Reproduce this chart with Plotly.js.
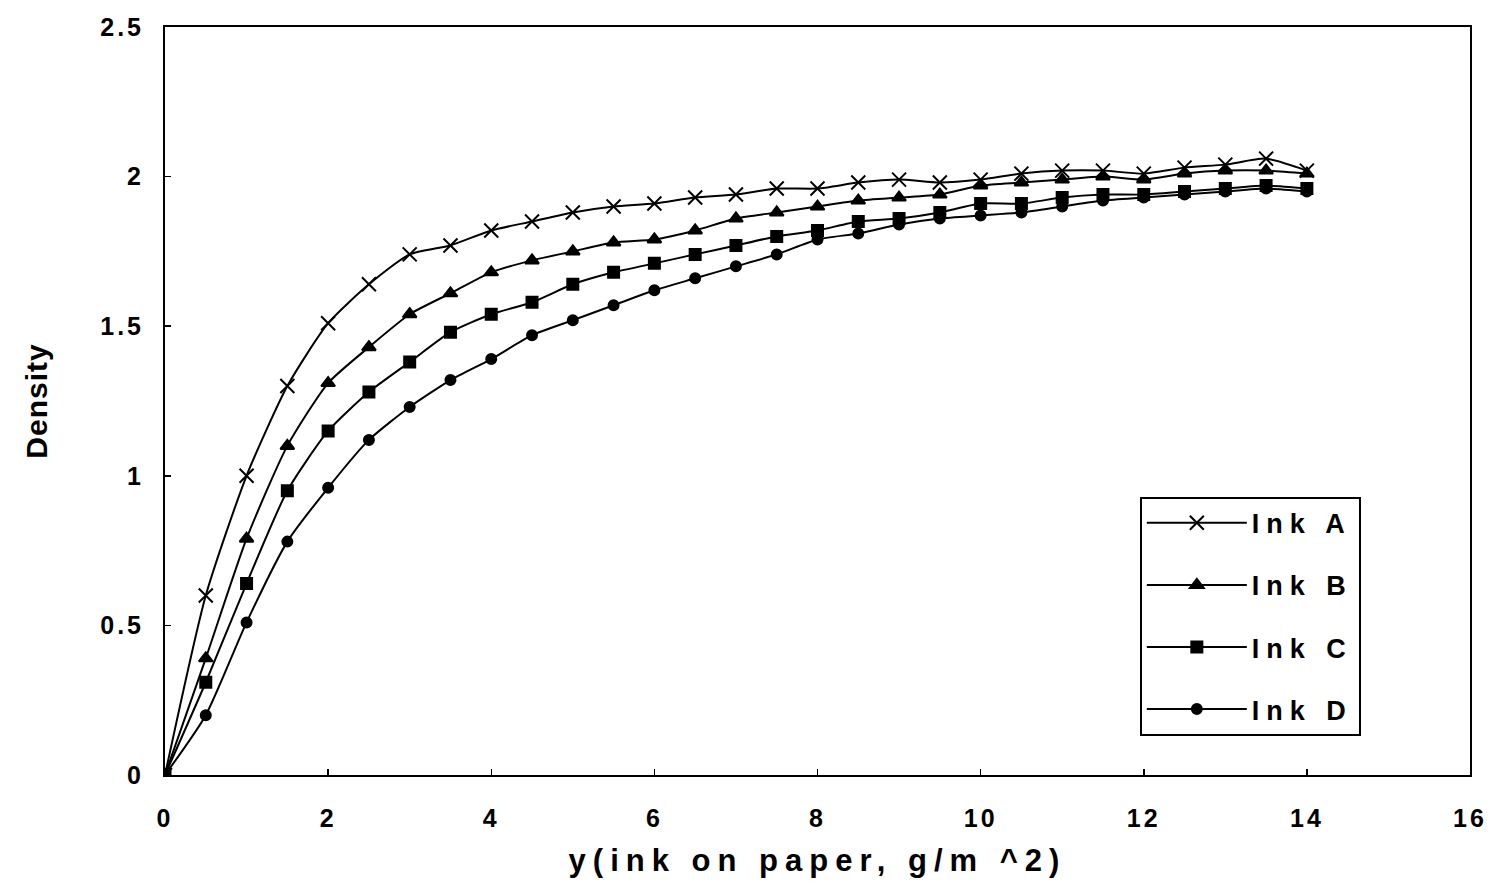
<!DOCTYPE html>
<html>
<head>
<meta charset="utf-8">
<script src="https://cdn.plot.ly/plotly-3.0.1.min.js"></script>
<style>
body{margin:0;background:#fff;}
#chart{width:1492px;height:893px;}
.xtitle{letter-spacing:7px;}
.ytitle{letter-spacing:1px;}
.xtick text{letter-spacing:3px;}
.ytick text{letter-spacing:3px;}
.legendtext{letter-spacing:7px;}
</style>
</head>
<body>
<div id="chart"></div>
<script>
const inkOnPaper = [0,0.5,1,1.5,2,2.5,3,3.5,4,4.5,5,5.5,6,6.5,7,7.5,8,8.5,9,9.5,10,10.5,11,11.5,12,12.5,13,13.5,14];
const inkA = [0,0.60,1.00,1.30,1.51,1.64,1.74,1.77,1.82,1.85,1.88,1.90,1.91,1.93,1.94,1.96,1.96,1.98,1.99,1.98,1.99,2.01,2.02,2.02,2.01,2.03,2.04,2.06,2.02];
const inkB = [0,0.39,0.79,1.10,1.31,1.43,1.54,1.61,1.68,1.72,1.75,1.78,1.79,1.82,1.86,1.88,1.90,1.92,1.93,1.94,1.97,1.98,1.99,2.00,1.99,2.01,2.02,2.02,2.01];
const inkC = [0,0.31,0.64,0.95,1.15,1.28,1.38,1.48,1.54,1.58,1.64,1.68,1.71,1.74,1.77,1.80,1.82,1.85,1.86,1.88,1.91,1.91,1.93,1.94,1.94,1.95,1.96,1.97,1.96];
const inkD = [0,0.20,0.51,0.78,0.96,1.12,1.23,1.32,1.39,1.47,1.52,1.57,1.62,1.66,1.70,1.74,1.79,1.81,1.84,1.86,1.87,1.88,1.90,1.92,1.93,1.94,1.95,1.96,1.95];
const seriesNames = ['Ink A','Ink B','Ink C','Ink D'];
const seriesValues = [inkA, inkB, inkC, inkD];
const symbols = ['x-thin-open','triangle-up','square','circle'];
const sizes = [14,12,11,10];

const traces = seriesValues.map((vals,i)=>({
  x: inkOnPaper, y: vals, name: seriesNames[i], legendgroup:'g'+i, type:'scatter', mode:'lines+markers',
  line:{color:'#000', width:2, shape:'spline', smoothing:0.6},
  marker:{symbol:symbols[i], size:sizes[i], color:'#000', line:{color:'#000', width:2}}
}));

const fontFam = '"Liberation Sans", Arial, sans-serif';
const layout = {
  width:1492, height:893,
  margin:{l:165, r:22, t:27, b:118},
  paper_bgcolor:'#fff', plot_bgcolor:'#fff',
  font:{family:fontFam, color:'#000', size:22, weight:'bold'},
  showlegend:true,
  legend:{x:0.747, y:0.372, xanchor:'left', yanchor:'top', bordercolor:'#000', borderwidth:2,
    bgcolor:'#fff', font:{family:fontFam, size:27, weight:'bold', color:'#000'},
    tracegroupgap:24, itemwidth:100},
  xaxis:{range:[0,16], dtick:2, tick0:0, showgrid:false, zeroline:false,
    showline:true, linecolor:'#000', linewidth:2, mirror:true,
    ticks:'inside', ticklen:6, tickcolor:'#000', tickwidth:1.5,
    ticklabelstandoff:20,
    tickfont:{family:fontFam, size:25, weight:'bold'},
    title:{text:'y(ink on paper, g/m ^2)', standoff:18, font:{family:fontFam, size:31, weight:'bold'}}},
  yaxis:{range:[0,2.5], dtick:0.5, tick0:0, showgrid:false, zeroline:false,
    showline:true, linecolor:'#000', linewidth:2, mirror:true,
    ticks:'inside', ticklen:6, tickcolor:'#000', tickwidth:1.5,
    ticklabelstandoff:14,
    tickfont:{family:fontFam, size:25, weight:'bold'},
    title:{text:'Density', standoff:44, font:{family:fontFam, size:30, weight:'bold'}}}
};
Plotly.newPlot('chart', traces, layout, {displayModeBar:false, staticPlot:true});
</script>
</body>
</html>
